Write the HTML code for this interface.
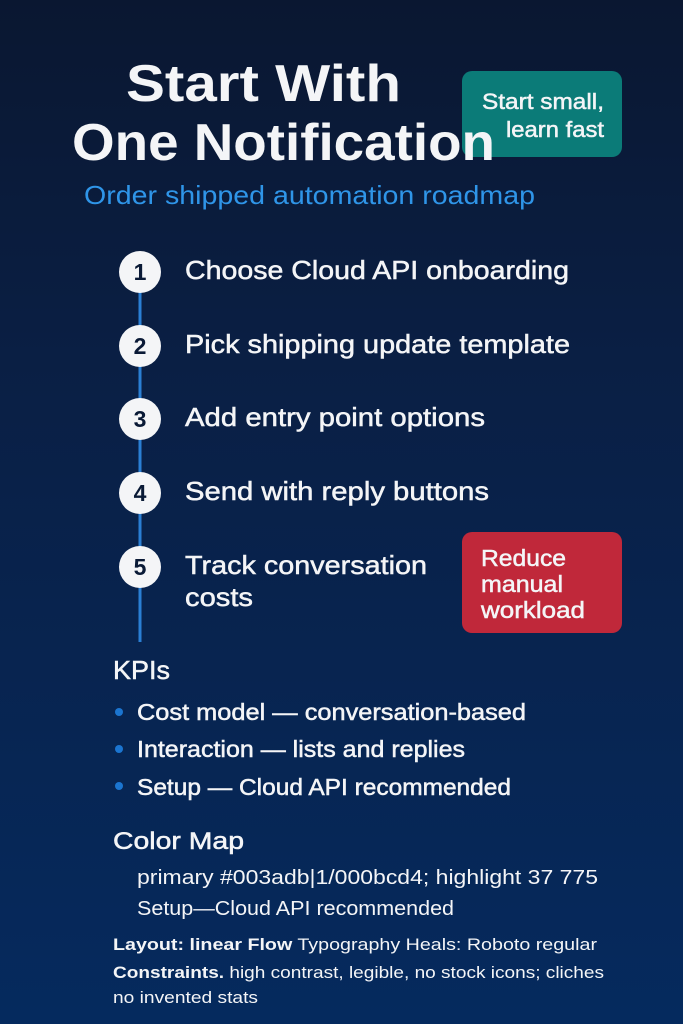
<!DOCTYPE html>
<html><head><meta charset="utf-8"><style>
html,body{margin:0;padding:0}
body{width:683px;height:1024px;overflow:hidden;background:linear-gradient(180deg,#0a1731 0%,#0a1f44 35%,#052a5e 100%)}
svg{display:block}
text{font-family:"Liberation Sans",sans-serif;fill:#f4f5f7}
.m{stroke:#f4f5f7;stroke-width:0.5}
</style></head><body>
<svg width="683" height="1024" viewBox="0 0 683 1024">
<rect x="462" y="71" width="160" height="86" rx="10" fill="#0b7b78"/>
<text class="m" x="482" y="109" font-size="22" textLength="122" lengthAdjust="spacingAndGlyphs">Start small,</text>
<text class="m" x="506" y="137" font-size="22" textLength="98" lengthAdjust="spacingAndGlyphs">learn fast</text>
<text x="126" y="101" font-size="52" font-weight="bold" textLength="275" lengthAdjust="spacingAndGlyphs">Start With</text>
<text x="72" y="160" font-size="52" font-weight="bold" textLength="423" lengthAdjust="spacingAndGlyphs">One Notification</text>
<text x="84" y="204" font-size="26" style="fill:#2f95e8" textLength="451" lengthAdjust="spacingAndGlyphs">Order shipped automation roadmap</text>

<line x1="140" y1="280" x2="140" y2="642" stroke="#2a7fd4" stroke-width="3"/>
<g font-weight="bold" font-size="23">
<circle cx="140" cy="272" r="21" fill="#f4f5f7"/><text x="140" y="280" text-anchor="middle" style="fill:#0a1a36">1</text>
<circle cx="140" cy="346" r="21" fill="#f4f5f7"/><text x="140" y="354" text-anchor="middle" style="fill:#0a1a36">2</text>
<circle cx="140" cy="419" r="21" fill="#f4f5f7"/><text x="140" y="427" text-anchor="middle" style="fill:#0a1a36">3</text>
<circle cx="140" cy="493" r="21" fill="#f4f5f7"/><text x="140" y="501" text-anchor="middle" style="fill:#0a1a36">4</text>
<circle cx="140" cy="567" r="21" fill="#f4f5f7"/><text x="140" y="575" text-anchor="middle" style="fill:#0a1a36">5</text>
</g>
<g font-size="26" class="m">
<text x="185" y="279" textLength="384" lengthAdjust="spacingAndGlyphs">Choose Cloud API onboarding</text>
<text x="185" y="353" textLength="385" lengthAdjust="spacingAndGlyphs">Pick shipping update template</text>
<text x="185" y="426" textLength="300" lengthAdjust="spacingAndGlyphs">Add entry point options</text>
<text x="185" y="500" textLength="304" lengthAdjust="spacingAndGlyphs">Send with reply buttons</text>
<text x="185" y="574" textLength="242" lengthAdjust="spacingAndGlyphs">Track conversation</text>
<text x="185" y="606" textLength="68" lengthAdjust="spacingAndGlyphs">costs</text>
</g>
<rect x="462" y="532" width="160" height="101" rx="10" fill="#c0283a"/>
<g font-size="23" class="m">
<text x="481" y="566" textLength="85" lengthAdjust="spacingAndGlyphs">Reduce</text>
<text x="481" y="592" textLength="82" lengthAdjust="spacingAndGlyphs">manual</text>
<text x="481" y="618" textLength="104" lengthAdjust="spacingAndGlyphs">workload</text>
</g>
<text class="m" x="113" y="679" font-size="26" textLength="57" lengthAdjust="spacingAndGlyphs">KPIs</text>
<g fill="#1b75d0"><circle cx="119" cy="712" r="4"/><circle cx="119" cy="749" r="4"/><circle cx="119" cy="786" r="4"/></g>
<g font-size="23" class="m">
<text x="137" y="720" textLength="389" lengthAdjust="spacingAndGlyphs">Cost model — conversation-based</text>
<text x="137" y="757" textLength="328" lengthAdjust="spacingAndGlyphs">Interaction — lists and replies</text>
<text x="137" y="795" textLength="374" lengthAdjust="spacingAndGlyphs">Setup — Cloud API recommended</text>
</g>
<text class="m" x="113" y="849" font-size="24" textLength="131" lengthAdjust="spacingAndGlyphs">Color Map</text>
<text x="137" y="884" font-size="20" textLength="461" lengthAdjust="spacingAndGlyphs">primary #003adb|1/000bcd4; highlight 37 775</text>
<text x="137" y="915" font-size="20" textLength="317" lengthAdjust="spacingAndGlyphs">Setup—Cloud API recommended</text>
<text x="113" y="950" font-size="17" textLength="484" lengthAdjust="spacingAndGlyphs"><tspan font-weight="bold">Layout: linear  Flow</tspan>  Typography Heals: Roboto regular</text>
<text x="113" y="978" font-size="17" textLength="491" lengthAdjust="spacingAndGlyphs"><tspan font-weight="bold">Constraints.</tspan> high contrast, legible, no stock icons; cliches</text>
<text x="113" y="1003" font-size="17" textLength="145" lengthAdjust="spacingAndGlyphs">no invented stats</text>
</svg>
</body></html>
